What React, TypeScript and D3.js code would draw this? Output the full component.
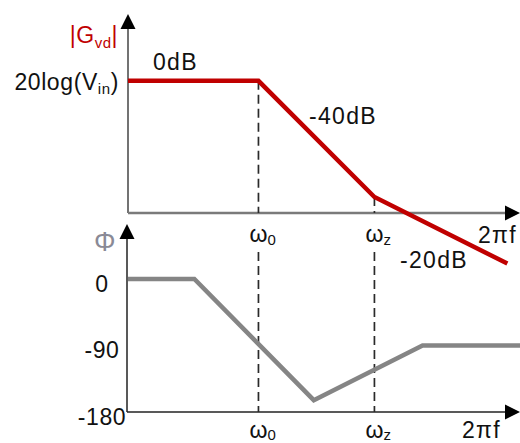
import React from "react";
import * as d3 from "d3";

// frequency axis is log (rad/s, normalised so that w0 = 1)
const freqDomain = [0.075, 180];

// magnitude asymptotes (dB)
const magFreq = [0.075, 1, 10, 140];
const magDb = [0, 0, -40, -62.9];
const magDomain = [-45.5, 23];

// phase asymptotes (deg)
const phaseFreq = [0.075, 0.28, 3.0, 26, 180];
const phaseDeg = [0, 0, -164, -90, -90];
const phaseDomain = [-180, 74.4];
const phaseTicks = [0, -90, -180];

// corner frequencies
const cornerFreq = [1, 10];
const cornerSub = ["0", "z"];

// slope annotations
const slopeLabels = ["0dB", "-40dB", "-20dB"];

const W = 520;
const H = 443;
const RED = "#c00000";
const GRAY = "#858585";
const FONT = "'Liberation Sans', Arial, sans-serif";
const FS = 23;
const LS = 1.3;

export default function App() {
  const x = d3.scaleLog().domain(freqDomain).range([128, 520]);
  const yMag = d3.scaleLinear().domain(magDomain).range([213, 14]);
  const yPh = d3.scaleLinear().domain(phaseDomain).range([412, 224]);

  const magData = magFreq.map((f, i) => ({ f, v: magDb[i] }));
  const phData = phaseFreq.map((f, i) => ({ f, v: phaseDeg[i] }));

  const magLine = d3.line<{ f: number; v: number }>()
    .x(d => x(d.f))
    .y(d => yMag(d.v));
  const phLine = d3.line<{ f: number; v: number }>()
    .x(d => x(d.f))
    .y(d => yPh(d.v));

  const x0 = x.range()[0];
  const x1 = x.range()[1];
  const ah = 15; // arrow head length
  const aw = 7.5;

  const upArrow = (cx: number, tip: number) =>
    `M${cx},${tip}L${cx - aw},${tip + ah}L${cx + aw},${tip + ah}Z`;
  const rightArrow = (tip: number, cy: number) =>
    `M${tip},${cy}L${tip - ah},${cy - aw}L${tip - ah},${cy + aw}Z`;

  const magTop = yMag.range()[1];
  const magBase = yMag.range()[0];
  const phTop = yPh.range()[1];
  const phBase = yPh.range()[0];

  const magAt = (f: number) => magDb[magFreq.indexOf(f)];

  return (
    <svg
      width={W}
      height={H}
      style={{ position: "absolute", left: 0, top: 0, background: "#fff" }}
      fontFamily={FONT}
      fontSize={FS}
      letterSpacing={LS}
    >
      {/* magnitude axes */}
      <line x1={x0} x2={x0} y1={magBase} y2={magTop + ah - 1} stroke="#444" strokeWidth={1.5} />
      <path d={upArrow(x0, magTop)} fill="#000" />
      <line x1={x0} x2={x1 - ah + 1} y1={magBase} y2={magBase} stroke="#7a7a7a" strokeWidth={2.5} />
      <path d={rightArrow(x1, magBase)} fill="#000" />

      {/* phase axes */}
      <line x1={x0 - 1} x2={x0 - 1} y1={phBase} y2={phTop + ah - 1} stroke="#222" strokeWidth={1.5} />
      <path d={upArrow(x0 - 1, phTop)} fill="#000" />
      <line x1={x0 - 1} x2={x1 - ah + 1} y1={phBase} y2={phBase} stroke="#222" strokeWidth={1.5} />
      <path d={rightArrow(x1, phBase)} fill="#000" />

      {/* dashed corner lines */}
      {cornerFreq.map(f => (
        <g key={f} stroke="#2a2a2a" strokeWidth={1.7} strokeDasharray="9,5">
          <line x1={x(f)} x2={x(f)} y1={yMag(magAt(f))} y2={magBase} />
          <line x1={x(f)} x2={x(f)} y1={252} y2={phBase} />
        </g>
      ))}

      {/* phase curve */}
      <path d={phLine(phData) || ""} fill="none" stroke={GRAY} strokeWidth={4.5} strokeLinejoin="miter" />

      {/* magnitude curve */}
      <path d={magLine(magData) || ""} fill="none" stroke={RED} strokeWidth={4.5} strokeLinejoin="miter" />

      {/* y labels */}
      <text x={118} y={43} textAnchor="end" fill={RED} letterSpacing={0.5}>
        |G<tspan fontSize={15} dy={5}>vd</tspan><tspan dy={-5}>|</tspan>
      </text>
      <text x={119} y={90} textAnchor="end" fill="#111" letterSpacing={0.6}>
        20log(V<tspan fontSize={15} dy={4}>in</tspan><tspan dy={-4}>)</tspan>
      </text>
      <text x={94} y={251} fill="#8a8a96" fontSize={27} letterSpacing={0}>Φ</text>
      {phaseTicks.map(t => (
        <text key={t} x={x0 - 26} y={yPh(t) + 13} textAnchor="middle" fill="#111" letterSpacing={0.6}>
          {t}
        </text>
      ))}

      {/* slope labels */}
      <text x={153} y={70} fill="#111">{slopeLabels[0]}</text>
      <text x={309} y={124} fill="#111">{slopeLabels[1]}</text>
      <text x={400} y={268} fill="#111">{slopeLabels[2]}</text>

      {/* frequency labels */}
      {cornerFreq.map((f, i) => (
        <g key={"l" + f} fill="#111" letterSpacing={0}>
          <text x={x(f) - 9} y={242}>
            ω<tspan fontSize={15} dy={3}>{cornerSub[i]}</tspan>
          </text>
          <text x={x(f) - 9} y={438}>
            ω<tspan fontSize={15} dy={2}>{cornerSub[i]}</tspan>
          </text>
        </g>
      ))}
      <text x={478} y={243} fill="#111">2πf</text>
      <text x={462} y={438} fill="#111">2πf</text>
    </svg>
  );
}
